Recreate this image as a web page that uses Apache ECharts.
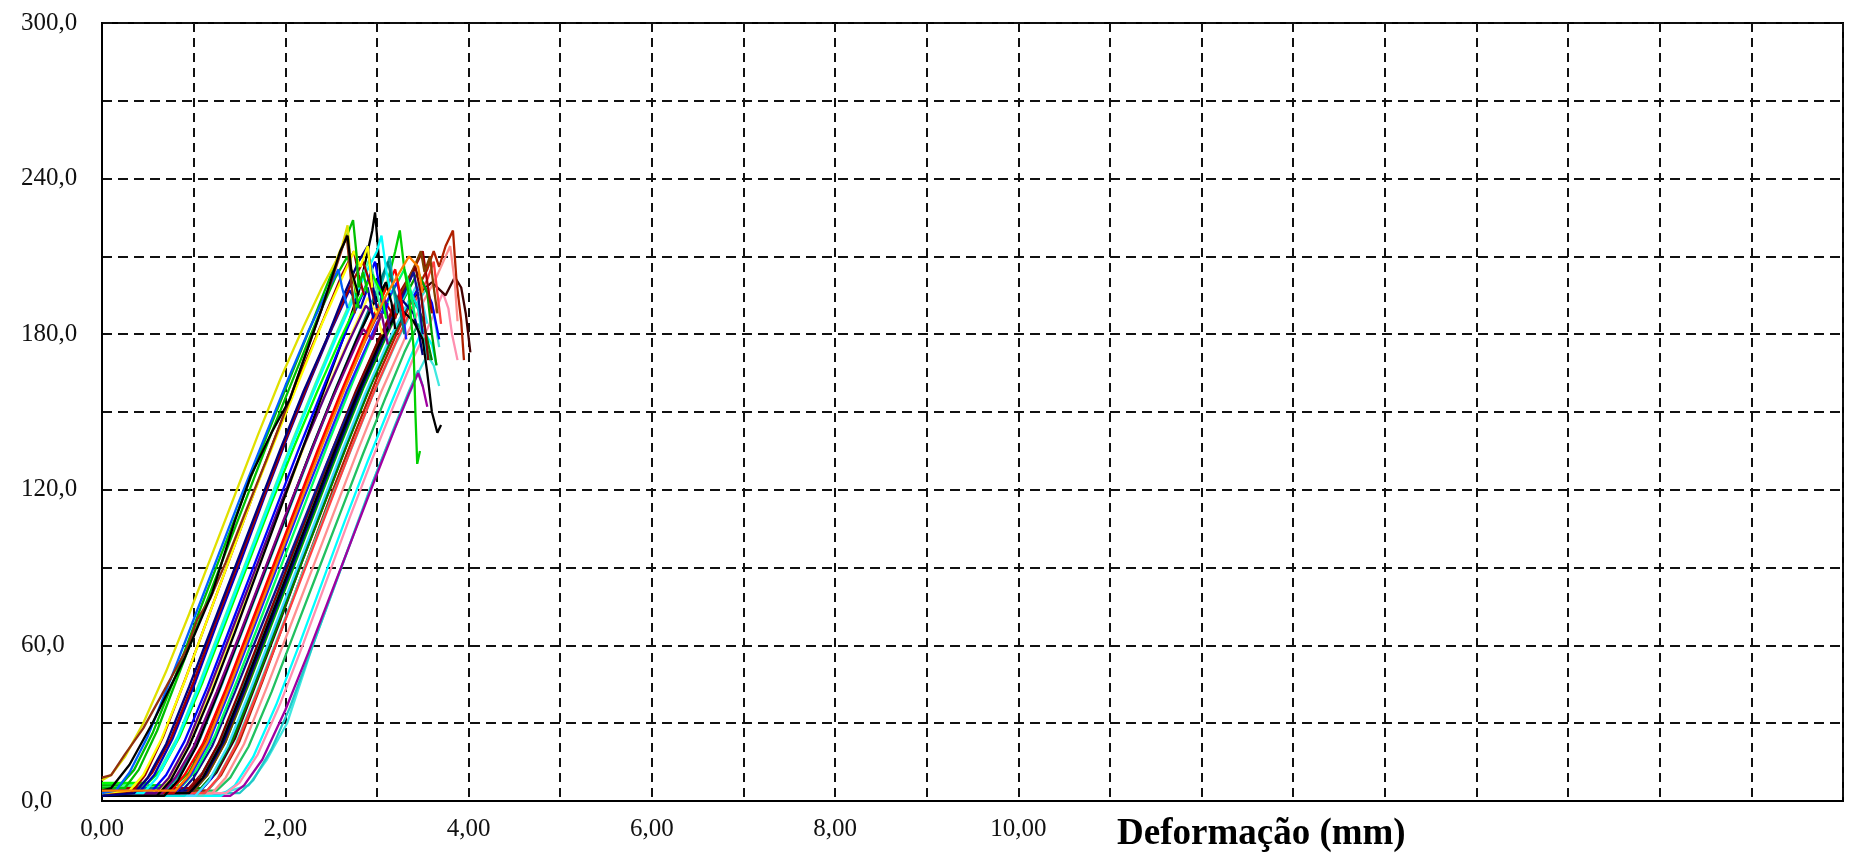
<!DOCTYPE html>
<html>
<head>
<meta charset="utf-8">
<title>Deformação</title>
<script src="https://cdn.jsdelivr.net/npm/echarts@6/dist/echarts.min.js"></script>
<style>
html,body{margin:0;padding:0;background:#fff;}
#chart{width:1852px;height:861px;}
</style>
</head>
<body>
<div id="chart"></div>
<script>
// Tick labels
const xTickLabels = ['0,00', '2,00', '4,00', '6,00', '8,00', '10,00'];
const yTickLabels = ['0,0', '60,0', '120,0', '180,0', '240,0', '300,0'];
const xAxisTitle = 'Deformação (mm)';

// Curves: [deformação (mm), carga]
const c01 = [[0,4],[0.1,5],[0.3,14],[0.55,30],[0.9,55],[1.2,80],[1.45,108],[1.62,125],[1.85,142],[2.05,155],[2.2,170],[2.4,190],[2.6,212],[2.68,218],[2.72,205],[2.8,195]];
const c02 = [[0,9],[0.1,10],[0.25,18],[0.45,28],[0.7,44],[0.93,59],[1.04,70],[1.18,78],[1.35,92],[1.55,110],[1.8,132],[2.05,155],[2.3,180],[2.5,200],[2.62,213],[2.67,218],[2.72,200],[2.76,188]];
const c03 = [[0,6],[0.2,6],[0.35,12],[0.55,26],[0.8,48],[1.05,72],[1.3,95],[1.55,118],[1.8,141],[2.05,163],[2.3,185],[2.5,203],[2.65,216],[2.74,224],[2.78,210],[2.8,198],[2.85,204],[2.9,196]];
const c04 = [[0,3],[0.3,4],[0.45,10],[0.65,24],[0.9,46],[1.15,70],[1.4,94],[1.65,118],[1.9,140],[2.15,162],[2.4,184],[2.6,200],[2.75,212],[2.82,206],[2.9,214],[2.95,198]];
const c05 = [[0,2],[0.35,3],[0.5,9],[0.7,22],[0.95,44],[1.2,67],[1.45,90],[1.7,113],[1.95,136],[2.2,158],[2.45,178],[2.65,196],[2.8,208],[2.9,214],[2.95,200],[3.0,190]];
const c06 = [[0,5],[0.4,5],[0.55,11],[0.75,24],[1.0,46],[1.25,70],[1.5,93],[1.75,116],[2.0,139],[2.25,161],[2.5,182],[2.7,198],[2.85,208],[2.92,200],[2.98,192]];
const c07 = [[0,3],[0.45,3],[0.6,9],[0.8,22],[1.05,43],[1.3,66],[1.55,89],[1.8,112],[2.05,135],[2.3,157],[2.55,178],[2.75,194],[2.9,205],[3.0,212],[3.05,218],[3.1,205],[3.15,196]];
const c08 = [[0,7],[0.5,7],[0.65,12],[0.85,25],[1.1,46],[1.35,69],[1.6,92],[1.85,115],[2.1,137],[2.35,158],[2.6,178],[2.8,193],[2.95,203],[3.05,196],[3.1,186]];
const c09 = [[0,4],[0.55,4],[0.7,10],[0.9,23],[1.15,44],[1.4,67],[1.65,90],[1.9,113],[2.15,136],[2.4,158],[2.65,180],[2.85,196],[2.98,208],[3.02,200],[3.08,188],[3.12,192]];
const c10 = [[0,2],[0.6,2],[0.75,8],[0.95,21],[1.2,42],[1.45,65],[1.7,89],[1.95,113],[2.2,137],[2.45,161],[2.65,180],[2.8,196],[2.9,212],[2.95,220],[2.98,227],[3.02,210],[3.05,196],[3.1,200]];
const c11 = [[0,3],[0.65,3],[0.8,9],[1.0,21],[1.25,42],[1.5,64],[1.75,87],[2.0,110],[2.25,132],[2.5,154],[2.7,170],[2.85,182],[2.95,178],[3.05,188],[3.12,176]];
const c12 = [[0,5],[0.7,5],[0.85,11],[1.05,24],[1.3,45],[1.55,68],[1.8,91],[2.05,114],[2.3,137],[2.55,159],[2.8,180],[3.0,197],[3.12,208],[3.18,198],[3.25,190],[3.3,180]];
const c13 = [[0,4],[0.75,4],[0.9,10],[1.1,22],[1.35,43],[1.6,66],[1.85,89],[2.1,112],[2.35,135],[2.6,157],[2.85,178],[3.05,194],[3.2,205],[3.25,196],[3.3,186]];
const c14 = [[0,6],[0.8,6],[0.95,11],[1.15,24],[1.4,46],[1.65,69],[1.9,92],[2.15,115],[2.4,138],[2.65,160],[2.9,181],[3.1,198],[3.2,212],[3.25,220],[3.3,205],[3.35,195],[3.4,175],[3.42,150],[3.44,130],[3.47,135]];
const c15 = [[0,3],[0.85,3],[1.0,9],[1.2,21],[1.45,42],[1.7,64],[1.95,86],[2.2,108],[2.45,130],[2.7,151],[2.95,170],[3.15,185],[3.3,196],[3.4,204],[3.45,195],[3.5,180]];
const c16 = [[0,2],[0.9,2],[1.05,8],[1.25,20],[1.5,41],[1.75,63],[2.0,86],[2.25,109],[2.5,131],[2.75,153],[3.0,173],[3.2,188],[3.35,198],[3.45,190],[3.5,178],[3.55,172]];
const c17 = [[0,5],[0.95,5],[1.1,11],[1.3,24],[1.55,46],[1.8,69],[2.05,92],[2.3,115],[2.55,138],[2.8,160],[3.05,180],[3.25,196],[3.4,205],[3.5,212],[3.55,200],[3.6,188]];
const c18 = [[0,4],[1.0,4],[1.15,10],[1.35,23],[1.6,45],[1.85,68],[2.1,91],[2.35,114],[2.6,137],[2.85,159],[3.1,179],[3.3,194],[3.45,204],[3.55,196],[3.6,180],[3.65,168]];
const c19 = [[0,3],[1.05,3],[1.2,9],[1.4,22],[1.65,44],[1.9,67],[2.15,90],[2.4,113],[2.65,136],[2.9,158],[3.15,178],[3.35,192],[3.5,200],[3.6,192],[3.68,178]];
const c20 = [[0,2],[1.1,2],[1.25,8],[1.45,21],[1.7,43],[1.95,66],[2.2,89],[2.45,112],[2.7,134],[2.95,156],[3.2,176],[3.4,190],[3.55,198],[3.62,188],[3.68,175]];
const c21 = [[0,2],[1.2,2],[1.4,4],[1.6,6],[1.8,16],[2.02,30],[2.3,60],[2.6,89],[2.92,120],[3.15,140],[3.33,155],[3.45,165],[3.55,172],[3.62,168],[3.68,160]];
const c22 = [[0,4],[1.15,4],[1.3,10],[1.5,23],[1.75,46],[2.0,70],[2.25,94],[2.5,118],[2.75,141],[3.0,163],[3.25,183],[3.45,198],[3.55,205],[3.62,212],[3.68,206],[3.75,214],[3.83,220],[3.87,200],[3.92,185],[3.95,170]];
const c23 = [[0,3],[1.2,3],[1.35,9],[1.55,22],[1.8,44],[2.05,67],[2.3,90],[2.55,113],[2.8,136],[3.05,158],[3.3,178],[3.5,192],[3.65,202],[3.75,210],[3.8,214],[3.85,200],[3.88,185]];
const c24 = [[0,5],[1.1,5],[1.25,11],[1.45,24],[1.7,47],[1.95,70],[2.2,94],[2.45,117],[2.7,140],[2.95,162],[3.2,181],[3.4,194],[3.6,200],[3.75,195],[3.85,202],[3.92,198],[3.97,188],[4.02,173]];
const c25 = [[0,3],[0.95,3],[1.1,9],[1.3,22],[1.55,44],[1.8,67],[2.05,90],[2.3,113],[2.55,136],[2.8,158],[3.05,178],[3.25,190],[3.4,185],[3.5,178],[3.55,165],[3.6,150],[3.66,142],[3.7,145]];
const c26 = [[0,4],[0.8,4],[0.95,10],[1.15,23],[1.4,45],[1.65,68],[1.9,91],[2.15,114],[2.4,137],[2.65,159],[2.9,180],[3.1,195],[3.25,204],[3.35,210],[3.45,206],[3.5,196]];
const c27 = [[0,5],[0.25,5],[0.4,12],[0.6,27],[0.85,50],[1.1,73],[1.35,96],[1.6,119],[1.85,142],[2.1,164],[2.35,186],[2.55,202],[2.68,210],[2.75,200],[2.8,190]];
const c28 = [[0,3],[0.32,3],[0.47,10],[0.67,25],[0.92,48],[1.17,72],[1.42,96],[1.67,120],[1.92,143],[2.17,165],[2.42,186],[2.62,203],[2.75,212],[2.8,203],[2.86,195]];
const c29 = [[0,4],[0.42,4],[0.57,10],[0.77,24],[1.02,46],[1.27,70],[1.52,93],[1.77,117],[2.02,140],[2.27,162],[2.52,183],[2.7,197],[2.82,190],[2.9,198],[2.96,186]];
const c30 = [[0,6],[0.48,6],[0.63,12],[0.83,25],[1.08,47],[1.33,70],[1.58,93],[1.83,116],[2.08,139],[2.33,161],[2.58,182],[2.78,198],[2.92,209],[2.98,200],[3.04,190]];
const c31 = [[0,3],[0.58,3],[0.73,9],[0.93,22],[1.18,44],[1.43,67],[1.68,90],[1.93,113],[2.18,135],[2.43,156],[2.68,176],[2.88,191],[3.0,186],[3.08,194],[3.14,182]];
const c32 = [[0,4],[0.62,4],[0.77,10],[0.97,24],[1.22,46],[1.47,69],[1.72,92],[1.97,115],[2.22,138],[2.47,160],[2.72,180],[2.9,194],[3.0,188],[3.06,180]];
const c33 = [[0,2],[0.68,2],[0.83,8],[1.03,21],[1.28,43],[1.53,66],[1.78,89],[2.03,112],[2.28,135],[2.53,157],[2.78,178],[2.98,193],[3.1,200],[3.16,192],[3.2,182]];
const c34 = [[0,5],[0.72,5],[0.87,11],[1.07,24],[1.32,46],[1.57,69],[1.82,92],[2.07,115],[2.32,138],[2.57,160],[2.82,181],[3.02,196],[3.1,205],[3.14,210],[3.18,198],[3.22,188]];
const c35 = [[0,3],[0.78,3],[0.93,9],[1.13,22],[1.38,44],[1.63,67],[1.88,90],[2.13,113],[2.38,136],[2.63,158],[2.88,178],[3.08,193],[3.2,186],[3.25,196],[3.3,184]];
const c36 = [[0,4],[0.82,4],[0.97,10],[1.17,23],[1.42,45],[1.67,68],[1.92,91],[2.17,114],[2.42,136],[2.67,158],[2.92,178],[3.1,192],[3.22,200],[3.28,190],[3.32,178]];
const c37 = [[0,6],[0.88,6],[1.03,12],[1.23,25],[1.48,47],[1.73,70],[1.98,93],[2.23,116],[2.48,139],[2.73,161],[2.98,182],[3.18,197],[3.3,205],[3.36,198],[3.42,186]];
const c38 = [[0,3],[0.92,3],[1.07,9],[1.27,22],[1.52,44],[1.77,67],[2.02,90],[2.27,113],[2.52,136],[2.77,158],[3.02,178],[3.22,192],[3.35,200],[3.42,206],[3.48,196],[3.52,184],[3.56,170]];
const c39 = [[0,4],[0.98,4],[1.13,10],[1.33,23],[1.58,45],[1.83,68],[2.08,91],[2.33,114],[2.58,137],[2.83,159],[3.08,179],[3.28,193],[3.4,188],[3.46,180],[3.5,172]];
const c40 = [[0,2],[1.02,2],[1.17,8],[1.37,21],[1.62,43],[1.87,66],[2.12,89],[2.37,112],[2.62,135],[2.87,157],[3.12,177],[3.32,191],[3.45,200],[3.5,192],[3.55,184]];
const c41 = [[0,5],[1.08,5],[1.23,11],[1.43,24],[1.68,46],[1.93,69],[2.18,92],[2.43,115],[2.68,138],[2.93,160],[3.18,180],[3.38,195],[3.5,186],[3.55,178],[3.6,170]];
const c42 = [[0,3],[1.12,3],[1.27,9],[1.47,22],[1.72,44],[1.97,67],[2.22,90],[2.47,113],[2.72,136],[2.97,158],[3.22,178],[3.42,193],[3.55,201],[3.62,208],[3.66,196],[3.7,184]];
const c43 = [[0,4],[1.0,4],[1.15,10],[1.35,23],[1.6,46],[1.85,70],[2.1,94],[2.35,118],[2.6,141],[2.85,163],[3.1,183],[3.3,198],[3.42,207],[3.48,212],[3.52,204],[3.58,210],[3.62,198],[3.66,188]];
const c44 = [[0,2],[1.3,2],[1.45,6],[1.65,17],[1.9,37],[2.15,60],[2.4,84],[2.65,108],[2.9,131],[3.15,153],[3.35,170],[3.5,182],[3.6,176],[3.65,168]];
const c45 = [[0,4],[1.25,4],[1.4,9],[1.6,21],[1.85,42],[2.1,65],[2.35,88],[2.6,111],[2.85,134],[3.1,156],[3.3,173],[3.45,184],[3.52,178],[3.58,170]];
const c46 = [[0,3],[1.35,3],[1.5,7],[1.7,18],[1.95,38],[2.2,61],[2.45,85],[2.7,109],[2.95,132],[3.2,154],[3.4,171],[3.55,182],[3.65,190],[3.72,196],[3.78,190],[3.82,180],[3.88,170]];
const c47 = [[0,3],[0.15,4],[0.3,11],[0.5,25],[0.75,47],[1.0,70],[1.25,93],[1.5,116],[1.75,138],[2.0,160],[2.25,181],[2.45,196],[2.58,205],[2.62,198],[2.68,190]];
const c48 = [[0,8],[0.1,10],[0.25,17],[0.45,30],[0.7,50],[0.95,72],[1.2,95],[1.45,118],[1.7,141],[1.95,163],[2.2,183],[2.4,198],[2.55,208],[2.62,214],[2.68,222],[2.72,205],[2.78,196]];
const c49 = [[0,2],[1.4,2],[1.55,6],[1.75,16],[2.0,35],[2.25,57],[2.5,80],[2.75,103],[3.0,126],[3.2,144],[3.35,157],[3.45,165],[3.5,160],[3.55,152]];
const c50 = [[0,3],[1.5,3],[1.65,8],[1.85,20],[2.05,36],[2.3,60],[2.55,84],[2.8,108],[3.0,127],[3.2,145],[3.35,158],[3.45,166],[3.5,160]];

const curves = [c21,c50,c49,c44,c45,c46,c24,c22,c23,c20,c19,c42,c41,c40,c18,c17,c43,c16,c39,c38,c15,c25,c37,c14,c36,c35,c13,c34,c12,c33,c32,c11,c31,c10,c09,c30,c08,c29,c07,c06,c28,c05,c27,c04,c03,c47,c48,c02,c01,c26];
const curveColors = ['#40e8e0','#20c8c8','#a000a0','#00ffff','#20c060','#ff90b0','#400000','#b02000','#ff9090','#40e0d0','#0000ff','#ff4040','#008000','#40e0ff','#00a000','#a00000','#804000','#00e0e0','#000080','#800000','#101090','#000000','#00ff60','#00d000','#2020ff','#c00000','#ff0000','#00b0b0','#008080','#000000','#ffff40','#800080','#600080','#000000','#0000ff','#40ffa0','#00ff00','#0000c0','#00ffff','#a00000','#a00000','#000080','#00c000','#ffff00','#00c000','#0060ff','#e0e000','#903010','#000000','#ff8000'];

const series = curves.map((d, i) => ({
  type: 'line',
  data: d,
  showSymbol: false,
  symbol: 'none',
  silent: true,
  animation: false,
  lineStyle: { width: 2.3, color: curveColors[i] },
  z: 2
}));

const chart = echarts.init(document.getElementById('chart'));
chart.setOption({
  backgroundColor: '#ffffff',
  animation: false,
  title: {
    text: xAxisTitle,
    left: 1112,
    top: 811,
    textStyle: { fontFamily: 'Liberation Serif', fontWeight: 'bold', fontSize: 37, color: '#000' }
  },
  grid: {
    left: 102, right: 9, top: 23, bottom: 60,
    show: true, borderColor: '#000', borderWidth: 2, backgroundColor: 'transparent'
  },
  xAxis: {
    type: 'value', min: 0, max: 19, interval: 1,
    axisLine: { show: true, lineStyle: { color: '#000', width: 2 } },
    axisTick: { show: false },
    splitLine: { show: true, lineStyle: { color: '#111', width: 2, type: [9, 6] } },
    axisLabel: {
      margin: 16,
      fontFamily: 'Liberation Serif', fontSize: 25, color: '#111',
      formatter: v => (v % 2 === 0 && v / 2 < xTickLabels.length) ? xTickLabels[v / 2] : ''
    }
  },
  yAxis: {
    type: 'value', min: 0, max: 300, interval: 30,
    axisLine: { show: true, lineStyle: { color: '#000', width: 2 } },
    axisTick: { show: false },
    splitLine: { show: true, lineStyle: { color: '#111', width: 2, type: [10, 6] } },
    axisLabel: {
      align: 'left', margin: 81,
      fontFamily: 'Liberation Serif', fontSize: 25, color: '#111',
      formatter: v => (v % 60 === 0) ? yTickLabels[v / 60] : ''
    }
  },
  series: series
});
</script>
</body>
</html>
